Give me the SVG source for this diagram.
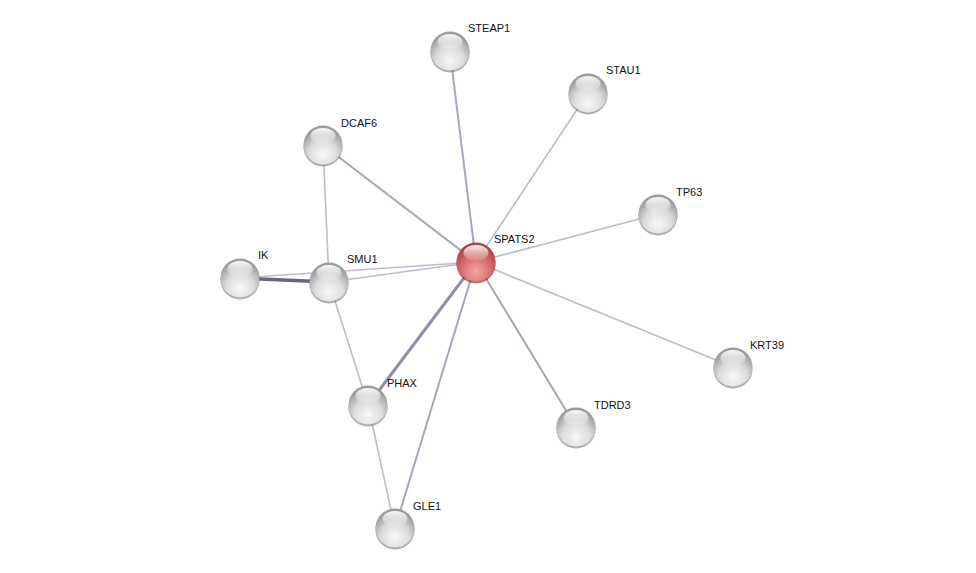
<svg xmlns="http://www.w3.org/2000/svg" xmlns:xlink="http://www.w3.org/1999/xlink" width="976" height="573" viewBox="0 0 976 573">
<style>
.e{fill:none;stroke-linecap:round}
.l1{stroke:#bcbccd;stroke-width:1.6}
.l2{stroke:#a6a6bb;stroke-width:2}
.l3{stroke:#8f8fa6;stroke-width:3}
.l4{stroke:#66667f;stroke-width:3.5}
text{font-family:"Liberation Sans",Arial,sans-serif;font-size:11px;fill:#111}
</style>
<defs>
<radialGradient id="gg" cx="50%" cy="75%" r="65%">
<stop offset="0" stop-color="#f8f8f8"/>
<stop offset="0.55" stop-color="#dcdcdc"/>
<stop offset="1" stop-color="#9c9c9c"/>
</radialGradient>
<radialGradient id="gr" cx="50%" cy="75%" r="65%">
<stop offset="0" stop-color="#f4a8a8"/>
<stop offset="0.55" stop-color="#dc7070"/>
<stop offset="1" stop-color="#b04444"/>
</radialGradient>
<linearGradient id="hl" x1="0" y1="0" x2="0" y2="1">
<stop offset="0" stop-color="#fff" stop-opacity="0.95"/>
<stop offset="1" stop-color="#fff" stop-opacity="0.05"/>
</linearGradient>
<g id="ball">
<circle cx="0" cy="2" r="19.6" fill="#6a6a6a" fill-opacity="0.55"/>
<circle cx="0" cy="0" r="19.5" fill="url(#gg)"/>
<ellipse cx="0" cy="-9" rx="12.5" ry="8" fill="url(#hl)"/>
</g>
<g id="rball">
<circle cx="0" cy="2" r="19.6" fill="#6a2020" fill-opacity="0.6"/>
<circle cx="0" cy="0" r="19.5" fill="url(#gr)"/>
<ellipse cx="0" cy="-9" rx="12.5" ry="8" fill="url(#hl)"/>
</g>
</defs>
<rect width="976" height="573" fill="#fff"/>
<g id="edges">
<line class="e l2" x1="476" y1="262" x2="450" y2="52"/>
<line class="e l1" x1="476" y1="262" x2="588" y2="93"/>
<line class="e l2" x1="476" y1="262" x2="323" y2="145"/>
<line class="e l1" x1="476" y1="262" x2="658" y2="214"/>
<line class="e l1" x1="476" y1="262" x2="240" y2="278"/>
<line class="e l1" x1="476" y1="262" x2="329" y2="282"/>
<line class="e l1" x1="476" y1="262" x2="733" y2="367"/>
<line class="e l3" x1="476" y1="262" x2="368" y2="405"/>
<line class="e l2" x1="476" y1="262" x2="576" y2="427"/>
<line class="e l2" x1="476" y1="262" x2="395" y2="528"/>
<line class="e l1" x1="323" y1="145" x2="329" y2="282"/>
<line class="e l4" x1="240" y1="278" x2="329" y2="282"/>
<line class="e l1" x1="329" y1="282" x2="368" y2="405"/>
<line class="e l1" x1="368" y1="405" x2="395" y2="528"/>
</g>
<g id="STEAP1"><use xlink:href="#ball" x="450" y="51"/><text x="468" y="32">STEAP1</text></g>
<g id="STAU1"><use xlink:href="#ball" x="588" y="93"/><text x="606" y="74">STAU1</text></g>
<g id="DCAF6"><use xlink:href="#ball" x="323" y="145"/><text x="341" y="127">DCAF6</text></g>
<g id="TP63"><use xlink:href="#ball" x="658" y="214"/><text x="676" y="196">TP63</text></g>
<g id="IK"><use xlink:href="#ball" x="240" y="278"/><text x="258" y="259">IK</text></g>
<g id="SMU1"><use xlink:href="#ball" x="329" y="282"/><text x="347" y="263">SMU1</text></g>
<g id="KRT39"><use xlink:href="#ball" x="733" y="367"/><text x="750" y="349">KRT39</text></g>
<g id="PHAX"><use xlink:href="#ball" x="368" y="405"/><text x="387" y="387">PHAX</text></g>
<g id="TDRD3"><use xlink:href="#ball" x="576" y="427"/><text x="594" y="409">TDRD3</text></g>
<g id="GLE1"><use xlink:href="#ball" x="395" y="528"/><text x="413" y="510">GLE1</text></g>
<g id="SPATS2"><use xlink:href="#rball" x="476" y="262"/><text x="494" y="243">SPATS2</text></g>
</svg>
